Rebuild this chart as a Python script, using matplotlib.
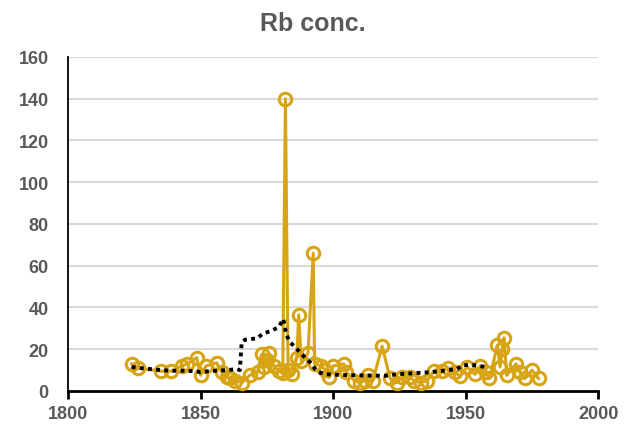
import matplotlib.pyplot as plt

# Rb concentration by year
years = [1824, 1826.5, 1835, 1839, 1843, 1845, 1848.5, 1850, 1852, 1856,
         1858, 1860, 1861, 1863, 1865.5, 1868.5, 1871.5, 1873, 1874, 1875,
         1875.8, 1877.5, 1879.5, 1881, 1882, 1883, 1884.5, 1886.3, 1887, 1888,
         1890.5, 1892.5, 1893, 1895.5, 1897, 1898.5, 1900, 1904, 1905, 1908,
         1910, 1912, 1913, 1915, 1918.5, 1921.5, 1924, 1926, 1929, 1930.5,
         1933, 1935.5, 1938, 1941, 1943.5, 1946, 1948, 1950.5, 1953.5, 1955.5,
         1957.5, 1959, 1962, 1963, 1963.8, 1964.5, 1965.5, 1969, 1970.5, 1972.5,
         1975, 1977.5]
rb = [13, 11, 9.5, 9.5, 12, 13, 16, 7.5, 12, 13.5,
      9, 6.5, 6, 5, 4, 7.5, 9, 17.5, 11.5, 15,
      18, 12, 9.5, 8.5, 140, 10, 8, 16, 36.5, 14.5,
      18, 66, 13, 12, 10, 6.5, 12, 13, 9, 5,
      4, 5, 7.5, 5, 21.5, 6, 4, 6.5, 6.5, 5,
      4, 5, 9.5, 9.5, 11, 9, 7, 11.5, 8, 12,
      9, 6, 22, 11.5, 20, 25.5, 7.5, 13, 9, 6,
      10, 6]

# moving-average trend
trend_years = [1824, 1827, 1835, 1839, 1843, 1848, 1850, 1853, 1856, 1860,
               1863.7, 1864.8, 1865.5, 1866.8, 1871.2, 1873.7, 1876.2, 1879.4, 1881.2, 1881.9,
               1882.5, 1883.8, 1885.7, 1887.5, 1889.4, 1891.3, 1893.2, 1894.5, 1897.6, 1902.6,
               1910, 1920, 1924, 1931.6, 1936.6, 1941.6, 1946.7, 1949, 1953, 1957.4]
trend = [11.5, 11, 10, 9.7, 9.7, 9.5, 9, 9.5, 9.7, 10,
         10.5, 10, 23.3, 24.6, 25.2, 27.6, 28.6, 30.5, 34.5, 29.7,
         26.5, 23.3, 21, 18.5, 16, 13.7, 10.5, 9, 8, 7.7,
         7.5, 7.3, 8, 8.6, 9, 9.7, 10.5, 12.4, 12.4, 11.5]

gold = '#D6A414'
grey = '#595959'

fig = plt.figure(figsize=(6.25, 4.31), dpi=100)
ax = fig.add_axes([0.109, 0.0905, 0.848, 0.775])

ax.plot(years, rb, color=gold, lw=2.2, marker='o', markersize=9,
        markerfacecolor='none', markeredgecolor=gold, markeredgewidth=2.2, zorder=3)
ax.plot(trend_years, trend, color='black', lw=2.8, linestyle=(0, (1, 1.1)), zorder=4)

ax.set_xlim(1800, 2000)
ax.set_ylim(0, 160)
ax.set_xticks(range(1800, 2001, 50))
ax.set_yticks(range(0, 161, 20))

for y in range(20, 161, 20):
    ax.axhline(y, color='#D9D9D9', lw=1.5, zorder=1)

for s in ['top', 'right']:
    ax.spines[s].set_visible(False)
ax.spines['left'].set_color('black')
ax.spines['bottom'].set_color('black')
ax.spines['left'].set_linewidth(1.3)
ax.spines['bottom'].set_linewidth(2)

ax.tick_params(axis='x', direction='out', length=6, width=2, color='black',
               labelsize=13, labelcolor=grey, pad=4)
ax.tick_params(axis='y', length=0, labelsize=13, labelcolor=grey, pad=14)
for lbl in ax.get_xticklabels() + ax.get_yticklabels():
    lbl.set_fontfamily('Liberation Sans')
    lbl.set_fontweight('bold')

fig.suptitle('Rb conc.', x=0.5, y=0.972, fontsize=18, fontweight='bold',
             color=grey, fontfamily='Liberation Sans')

fig.savefig('out.png', dpi=100)
